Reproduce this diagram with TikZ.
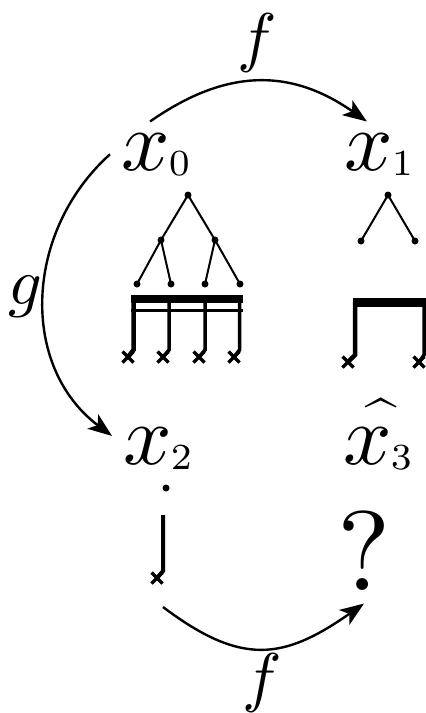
\RequirePackage{fix-cm}
\documentclass[tikz,border=0pt]{standalone}
\usepackage{amsmath}
\usepackage{graphicx}
\usetikzlibrary{arrows.meta}
\newcommand\smallhat{\rlap{\raisebox{2.85pt}{\hspace{2.5pt}\scalebox{0.66}{$\widehat{\phantom{x}}$}}}}
\newcommand\sbs[1]{\kern-0.2pt\raisebox{-0.6pt}{\scalebox{0.62}{$\scriptstyle #1$}}}
\tikzset{
  big/.style={inner sep=1.2pt, scale=8.5, font=\fontsize{10}{12}\selectfont},
  lbl/.style={inner sep=0pt, scale=6.6, font=\fontsize{10}{12}\selectfont},
  arr/.style={line width=2.4pt, -{Stealth[length=24pt,width=18pt,inset=6pt]}},
  tline/.style={line width=2pt},
  vline/.style={line width=3.5pt},
  thickbar/.style={fill=black},
  dotc/.style={fill=black},
  xmk/.pic={\draw[line width=3.2pt] (-5.5,-5.5) -- (5.5,5.5) (-5.5,5.5) -- (5.5,-5.5);}
}
\begin{document}
\begin{tikzpicture}[x=1pt,y=-1pt]
\useasboundingbox (0,0) rectangle (426,713);
\clip (0,0) rectangle (426,713);

% main nodes
\node[big, anchor=base west] (x0) at (110,170) {$x\sbs{0}$};
\node[big, anchor=base west] (x1) at (333,170) {$x\sbs{1}$};
\node[big, anchor=base west] (x2) at (112,464) {$x\sbs{2}$};
\node[big, anchor=base west] (x3) at (332,464) {$\smallhat x\sbs{3}$};
\node[big, inner sep=1pt, anchor=base, scale=11.3/8.5] (q) at (364,590) {?};

% labels
\node[lbl] (lf1) at (257,43) {$f$};
\node[lbl] (lg) at (25,297) {$g$};
\node[lbl] (lf2) at (262,683) {$f$};

% arrows
\draw[arr] (x0.100) to[out=35,in=145,looseness=1.1] (x1.110);
\draw[arr] (x0.west) to[out=222,in=143,looseness=1.05] (x2.165);
\coordinate (s2) at (163,607);
\draw[arr] (s2) to[out=-37,in=-145,looseness=1.25] (q.south);

% tree under x0
\coordinate (r0) at (188,195);
\coordinate (m1) at (161,240);
\coordinate (m2) at (215,240);
\coordinate (l1) at (137,284);
\coordinate (l2) at (171,284);
\coordinate (l3) at (205,284);
\coordinate (l4) at (240,284);
\draw[tline] (l1) -- (m1) -- (r0) -- (m2) -- (l4) (m1) -- (l2) (m2) -- (l3);
\foreach \p in {r0,m1,m2,l1,l2,l3,l4} \fill[dotc] (\p) circle (3.5);

% bars under x0
\fill[thickbar] (131,295) rectangle (243,303);
\draw[line width=3pt] (131,310.5) -- (243,310.5);
\draw[vline, line width=4.5pt] (133.5,299) -- (133.5,350) -- (128,357);
\draw[vline] (169,299) -- (169,350) -- (163,357);
\draw[vline] (205,299) -- (205,350) -- (199,357);
\draw[vline] (239.5,299) -- (239.5,350) -- (234,357);
\pic at (128,357) {xmk};
\pic at (163,357) {xmk};
\pic at (199,357) {xmk};
\pic at (234,357) {xmk};

% tree under x1
\coordinate (r1) at (388,195);
\coordinate (k1) at (361,241);
\coordinate (k2) at (415,241);
\draw[tline] (k1) -- (r1) -- (k2);
\foreach \p in {r1,k1,k2} \fill[dotc] (\p) circle (3.5);

% bars under x1
\fill[thickbar] (353,298) rectangle (432,307);
\draw[vline, line width=4.5pt] (355,302) -- (355,355) -- (348,362);
\draw[vline] (424,302) -- (424,355) -- (419,362);
\pic at (348,362) {xmk};
\pic at (419,362) {xmk};

% under x2
\coordinate (d2) at (166,488);
\fill[dotc] (d2) circle (3.5);
\draw[vline, line width=4pt] (163,515) -- (163,571) -- (157,578);
\pic at (157,578) {xmk};
\end{tikzpicture}
\end{document}
